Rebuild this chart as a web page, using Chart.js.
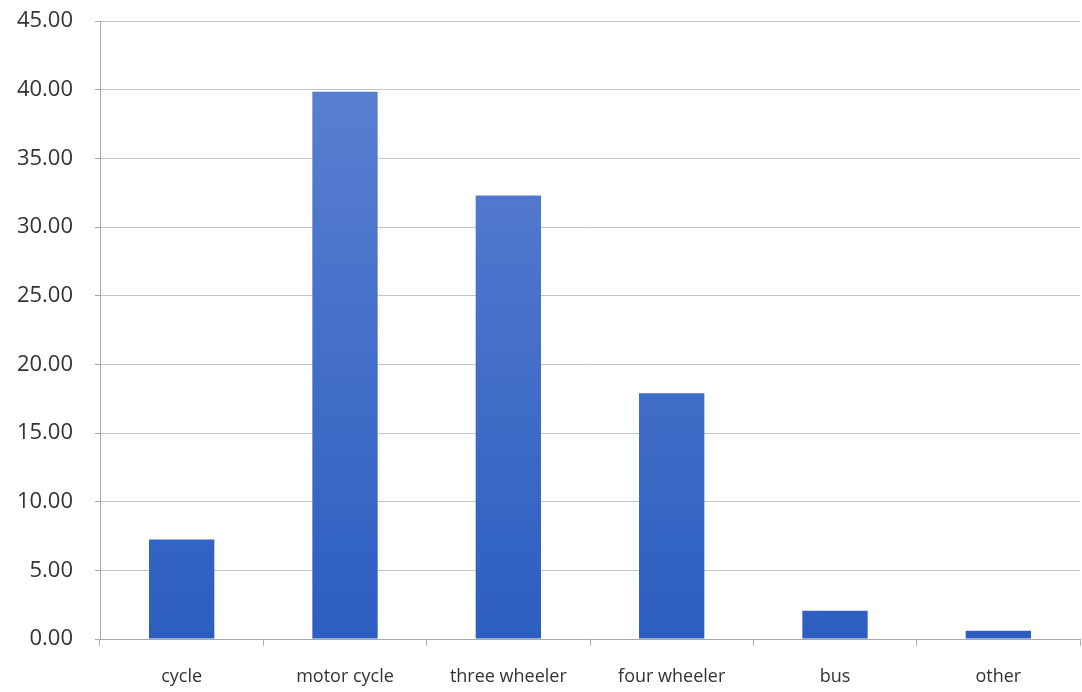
<!DOCTYPE html>
<html>
<head>
<meta charset="utf-8">
<script src="https://cdn.jsdelivr.net/npm/chart.js@4"></script>
<style>
  html, body { margin: 0; padding: 0; background: #fff; }
  #wrap { width: 1082px; height: 692px; }
</style>
</head>
<body>
<div id="wrap"><canvas id="vehicle-chart" width="1082" height="692"></canvas></div>
<script>
var categories = ["cycle", "motor cycle", "three wheeler", "four wheeler", "bus", "other"];
var shares = [7.25, 39.85, 32.3, 17.9, 2.05, 0.6];
var yTicks = [0, 5, 10, 15, 20, 25, 30, 35, 40, 45];

function barFill(context) {
    var chart = context.chart;
    var area = chart.chartArea;
    if (!area) return "#4a72c8";
    var g = chart.ctx.createLinearGradient(0, area.top, 0, area.bottom);
    g.addColorStop(0, "#5e83d2");
    g.addColorStop(1, "#2c5ec0");
    return g;
}

new Chart(document.getElementById("vehicle-chart"), {
    type: 'bar',
    data: {
        labels: categories,
        datasets: [{
            label: "share",
            data: shares,
            backgroundColor: barFill,
            borderWidth: 0,
            categoryPercentage: 1.0,
            barPercentage: 0.4
        }]
    },
    options: {
        responsive: false,
        animation: false,
        layout: { padding: { top: 21, right: 2, left: 0, bottom: 0 } },
        plugins: {
            legend: { display: false },
            tooltip: { enabled: false }
        },
        scales: {
            x: {
                afterFit: function(scale) {
                    scale.height = 53;
                    scale.paddingLeft = 0;
                    scale.paddingRight = 0;
                },
                grid: {
                    offset: true,
                    drawOnChartArea: false,
                    drawTicks: true,
                    tickLength: 7,
                    color: "#b0b0b0"
                },
                border: { color: "#a8a8a8", width: 1 },
                ticks: {
                    color: "#333",
                    padding: 20,
                    maxRotation: 0,
                    font: { family: "'Open Sans', 'Noto Sans', sans-serif", size: 18 }
                }
            },
            y: {
                min: 0,
                max: 45,
                afterFit: function(scale) {
                    scale.width = 100;
                    scale.paddingTop = 0;
                    scale.paddingBottom = 0;
                },
                afterBuildTicks: function(scale) {
                    scale.ticks = yTicks.map(function(v) { return { value: v }; });
                },
                grid: {
                    color: "#c4c4c4",
                    tickLength: 5,
                    tickColor: "#a8a8a8"
                },
                border: { color: "#a8a8a8", width: 1 },
                ticks: {
                    color: "#333",
                    padding: 22,
                    font: { family: "'Open Sans', 'Noto Sans', sans-serif", size: 22 },
                    callback: function(v) { return Number(v).toFixed(2); }
                }
            }
        }
    }
});
</script>
</body>
</html>
